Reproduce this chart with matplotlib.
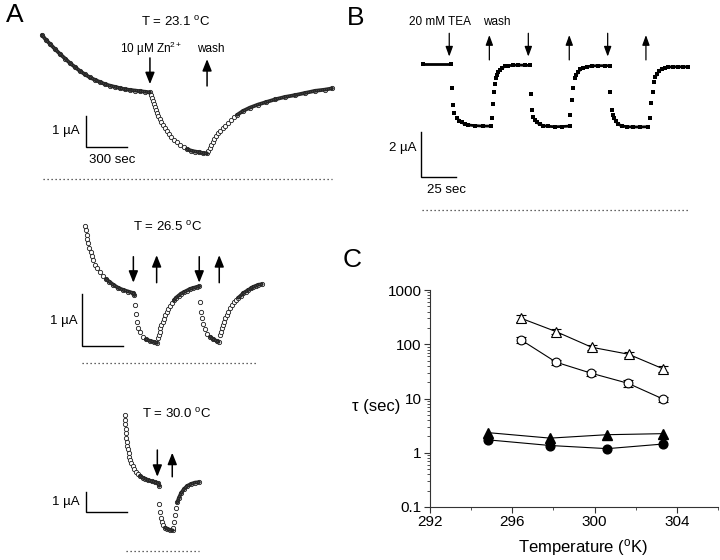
import numpy as np
import matplotlib
matplotlib.use('Agg')
import matplotlib.pyplot as plt
from matplotlib.ticker import FixedLocator, FixedFormatter, LogLocator, NullFormatter

plt.rcParams['font.family'] = ['Liberation Sans', 'DejaVu Sans']
plt.rcParams['mathtext.fontset'] = 'custom'
plt.rcParams['mathtext.rm'] = 'Liberation Sans'
plt.rcParams['mathtext.it'] = 'Liberation Sans:italic'
plt.rcParams['mathtext.bf'] = 'Liberation Sans:bold'

# ---------------- Panel A, T = 23.1 C  (time in s, current in uA) ----------------
A1_t = [0, 29, 58, 95, 131, 168, 204, 241, 277, 314, 350, 387, 423, 460, 496, 533, 569, 606, 642, 679, 715, 752, 788,
        796, 803, 810, 818, 825, 832, 842, 850, 861, 872, 883, 898, 913, 927, 945, 964, 986, 1007, 1033, 1059, 1088, 1117, 1146, 1175, 1205,
        1212, 1223, 1234, 1245, 1256, 1270, 1285, 1299, 1318, 1336, 1358, 1380, 1402, 1424, 1467, 1518, 1577, 1635, 1701, 1774, 1847, 1920, 1993, 2066, 2117]
A1_i = [4.72, 4.56, 4.43, 4.26, 4.10, 3.95, 3.80, 3.67, 3.54, 3.43, 3.33, 3.25, 3.18, 3.11, 3.06, 3.02, 2.98, 2.94, 2.92, 2.90, 2.88, 2.86, 2.84,
        2.75, 2.66, 2.56, 2.46, 2.36, 2.26, 2.16, 2.07, 1.97, 1.87, 1.77, 1.67, 1.57, 1.48, 1.38, 1.28, 1.20, 1.11, 1.05, 0.98, 0.93, 0.90, 0.88, 0.85, 0.84,
        0.92, 1.02, 1.11, 1.21, 1.31, 1.41, 1.51, 1.59, 1.67, 1.75, 1.85, 1.93, 2.02, 2.10, 2.23, 2.34, 2.44, 2.52, 2.61, 2.69, 2.75, 2.82, 2.89, 2.93, 2.97]

# ---------------- Panel A, T = 26.5 C ----------------
A2_t = [0, 5, 12, 17, 24, 31, 42, 51, 61, 73, 90, 110, 129, 153, 177, 207, 243, 280, 316, 353, 361,
        365, 370, 377, 389, 401, 421, 445, 475, 504, 526,
        535, 540, 545, 551, 557, 566, 575, 584, 595, 606, 621, 635, 650, 664, 683, 701, 723, 745, 767, 792, 818, 834,
        843, 850, 856, 865, 876, 894, 913, 937, 961, 975,
        986, 991, 998, 1006, 1015, 1024, 1034, 1046, 1059, 1073, 1088, 1102, 1119, 1137, 1156, 1174, 1192, 1212, 1229, 1248, 1265, 1290]
A2_i = [2.65, 2.56, 2.47, 2.39, 2.31, 2.22, 2.15, 2.07, 1.99, 1.90, 1.83, 1.75, 1.68, 1.62, 1.57, 1.51, 1.45, 1.41, 1.38, 1.35, 1.31,
        1.13, 0.94, 0.80, 0.68, 0.60, 0.51, 0.46, 0.43, 0.41, 0.39,
        0.48, 0.54, 0.61, 0.67, 0.74, 0.80, 0.86, 0.92, 0.99, 1.04, 1.10, 1.16, 1.21, 1.26, 1.30, 1.34, 1.37, 1.40, 1.43, 1.45, 1.47, 1.48,
        1.18, 0.99, 0.87, 0.76, 0.66, 0.56, 0.51, 0.46, 0.43, 0.41,
        0.54, 0.61, 0.67, 0.74, 0.80, 0.87, 0.93, 0.99, 1.06, 1.12, 1.17, 1.22, 1.26, 1.30, 1.35, 1.38, 1.41, 1.44, 1.47, 1.49, 1.51, 1.52]

# ---------------- Panel A, T = 30.0 C ----------------
A3_t = [0, 0, 2, 5, 7, 9, 12, 17, 22, 27, 31, 39, 46, 56, 66, 78, 93, 110, 129, 148, 170, 195, 219, 243, 250,
        251, 256, 261, 268, 275, 292, 309, 329, 348,
        353, 360, 365, 372, 382, 394, 409, 431, 455, 482, 511, 540]
A3_i = [6.99, 6.74, 6.52, 6.27, 6.05, 5.82, 5.62, 5.41, 5.23, 5.04, 4.85, 4.68, 4.51, 4.35, 4.21, 4.07, 3.95, 3.85, 3.76, 3.70, 3.63, 3.58, 3.53, 3.47, 3.34,
        2.39, 2.01, 1.70, 1.49, 1.32, 1.19, 1.12, 1.07, 1.05,
        1.19, 1.49, 1.84, 2.19, 2.49, 2.73, 2.96, 3.18, 3.34, 3.44, 3.51, 3.53]

# ---------------- Panel B, 20 mM TEA ----------------
B_t = [0, 20.3,
       20.6, 21.2, 22.4, 24.1, 25.7, 27.6, 29.9, 32.3, 37.0, 42.7, 48.4,
       48.9, 49.6, 50.5, 51.2, 51.7, 52.6, 53.5, 54.7, 56.4, 58.3, 60.6, 63.9, 67.7, 72.4, 76.0,
       76.7, 77.2, 78.3, 79.5, 80.7, 83.0, 85.4, 88.7, 93.7, 98.6, 104.3,
       104.6, 105.9, 106.6, 107.8, 108.9, 110.2, 111.7, 113.7, 116.4, 119.7, 124.1, 129.1, 132.6,
       132.9, 133.8, 134.8, 135.7, 136.9, 138.5, 141.1, 144.4, 148.9, 153.8, 159.7,
       160.9, 161.6, 162.8, 164.0, 164.8, 165.7, 167.3, 169.2, 171.5, 173.9, 177.2, 181.0, 184.3, 187.6]
B_i = [6.58, 6.58,
       5.48, 4.71, 4.38, 4.16, 4.03, 3.95, 3.87, 3.83, 3.80, 3.78, 3.78,
       4.13, 4.77, 5.33, 5.66, 5.93, 6.10, 6.20, 6.31, 6.41, 6.47, 6.50, 6.52, 6.53, 6.52, 6.51,
       5.21, 4.50, 4.20, 4.05, 3.95, 3.86, 3.80, 3.77, 3.75, 3.76, 3.78,
       4.28, 4.95, 5.48, 5.93, 6.10, 6.23, 6.33, 6.41, 6.45, 6.49, 6.50, 6.50, 6.50,
       5.33, 4.50, 4.30, 4.13, 3.99, 3.86, 3.79, 3.75, 3.74, 3.74, 3.75,
       4.16, 4.81, 5.33, 5.78, 5.99, 6.11, 6.25, 6.35, 6.41, 6.44, 6.45, 6.45, 6.45, 6.45]

# ---------------- Panel C ----------------
C_ticks_x = [292, 296, 300, 304]
C_ticks_y = [0.1, 1, 10, 100, 1000]
C_ticklabels_y = ['0.1', '1', '10', '100', '1000']
zn_open_T = [296.43, 298.13, 299.86, 301.65, 303.35]
zn_open_tau = [301, 171, 88, 65.5, 35]
zn_open_err = [40, 18, 9, 7, 4]
tea_open_T = [296.43, 298.13, 299.83, 301.62, 303.35]
tea_open_tau = [120, 46.7, 29.3, 19.1, 9.7]
tea_open_err = [15, 5, 3, 2.5, 1.0]
zn_fill_T = [294.81, 297.84, 300.59, 303.35]
zn_fill_tau = [2.35, 1.86, 2.15, 2.25]
tea_fill_T = [294.81, 297.84, 300.62, 303.35]
tea_fill_tau = [1.73, 1.36, 1.19, 1.45]

W, H = 720, 560
fig = plt.figure(figsize=(W / 100, H / 100), dpi=100)


def px_axes(x0, y0, x1, y1, ox, oy, sx, sy):
    """Axes occupying a pixel box; data origin at pixel (ox, oy), sx px per s, sy px per uA."""
    ax = fig.add_axes([x0 / W, 1 - y1 / H, (x1 - x0) / W, (y1 - y0) / H])
    ax.set_xlim((x0 - ox) / sx, (x1 - ox) / sx)
    ax.set_ylim((oy - y1) / sy, (oy - y0) / sy)
    ax.axis('off')
    return ax


def draw_circles(ax, t, i, dense):
    t = np.asarray(t, float)
    i = np.asarray(i, float)
    ax.plot(t, i, ls='none', marker='o', ms=3.1, mfc='white', mec='#1a1a1a', mew=0.6, zorder=2)
    for lo, hi in dense:
        m = (t >= lo) & (t <= hi)
        ax.plot(t[m], i[m], color='#262626', lw=2.7, solid_capstyle='round', zorder=3)
        ax.plot(t[m], i[m], color='#8a8a8a', lw=0.5, ls=(0, (0.6, 2.4)), zorder=4)


def draw_squares(ax, t, i, dense):
    t = np.asarray(t, float)
    i = np.asarray(i, float)
    ax.plot(t, i, ls='none', marker='s', ms=2.2, mfc='black', mec='black', mew=0, zorder=2)
    for lo, hi in dense:
        m = (t >= lo) & (t <= hi)
        ax.plot(t[m], i[m], color='black', lw=2.0, solid_capstyle='butt', zorder=3)


def arrow(ax, x, y_from, y_to, lw=1.1, hl=0.7, hw=0.28):
    ax.annotate('', xy=(x, y_to), xytext=(x, y_from),
                arrowprops=dict(arrowstyle=f'-|>,head_length={hl},head_width={hw}',
                                lw=lw, color='black', shrinkA=0, shrinkB=0))


def scalebar(ax, x, y, dx, dy):
    ax.plot([x, x, x + dx], [y + dy, y, y], color='black', lw=1.0, solid_joinstyle='miter')


def dotted(ax, x0, x1):
    ax.plot([x0, x1], [0, 0], color='#333333', lw=0.9, ls=(0, (1.0, 2.2)))


SMALL = dict(fontsize=8.5, family='Liberation Sans')

# ---- A top ----
a1 = px_axes(0, 0, 360, 195, 42, 179, 1 / 7.3, 30.5)
draw_circles(a1, A1_t, A1_i, [(0, 790), (1050, 1206), (1420, 2120)])
dotted(a1, 7, 2117)
scalebar(a1, 321, 1.06, 300, 1.0)
a1.text(277, 1.57, '1 µA', ha='right', va='center', fontsize=9.5)
a1.text(511, 0.61, '300 sec', ha='center', va='center', fontsize=9.5)
a1.text(978, 5.15, r'T = 23.1 $^{\mathrm{o}}$C', ha='center', va='center', fontsize=9.5)
a1.text(796, 4.26, r'10 µM Zn$^{\mathrm{2+}}$', ha='center', va='center', **SMALL)
a1.text(1234, 4.26, 'wash', ha='center', va='center', **SMALL)
arrow(a1, 788, 3.97, 3.11)
arrow(a1, 1205, 3.05, 3.93)

# ---- A middle ----
a2 = px_axes(0, 200, 360, 380, 85, 363.3, 1 / 7.3, 52)
draw_circles(a2, A2_t, A2_i, [(150, 361), (430, 526), (650, 834), (913, 975), (1119, 1290)])
dotted(a2, -24, 1265)
scalebar(a2, -24, 0.33, 300, 1.0)
a2.text(-51, 0.82, '1 µA', ha='right', va='center', fontsize=9.5)
a2.text(606, 2.63, r'T = 26.5 $^{\mathrm{o}}$C', ha='center', va='center', fontsize=9.5)
arrow(a2, 353, 2.05, 1.55)
arrow(a2, 523, 1.55, 2.08)
arrow(a2, 834, 2.05, 1.55)
arrow(a2, 980, 1.55, 2.08)

# ---- A bottom ----
a3 = px_axes(0, 395, 360, 560, 125, 550.7, 1 / 7.3, 19.4)
draw_circles(a3, A3_t, A3_i, [(100, 250), (290, 350), (380, 540)])
dotted(a3, 5, 540)
scalebar(a3, -285, 2.01, 300, 1.0)
a3.text(-329, 2.53, '1 µA', ha='right', va='center', fontsize=9.5)
a3.text(377, 7.05, r'T = 30.0 $^{\mathrm{o}}$C', ha='center', va='center', fontsize=9.5)
arrow(a3, 236, 5.19, 3.81)
arrow(a3, 345, 3.81, 5.05)

# ---- B ----
b = px_axes(360, 0, 720, 225, 422.7, 210, 35.3 / 25, 22.2)
draw_squares(b, B_t, B_i, [(0, 20.4), (24.0, 48.5), (52.5, 76.1), (79.4, 104.4),
                           (108.8, 132.7), (135.6, 159.8), (164.7, 188)])
dotted(b, -0.7, 188.0)
scalebar(b, -1.4, 1.50, 25, 2.0)
b.text(-4.7, 2.78, '2 µA', ha='right', va='center', fontsize=9.5)
b.text(17.2, 0.90, '25 sec', ha='center', va='center', fontsize=9.5)
b.text(12.2, 8.48, '20 mM TEA', ha='center', va='center', **SMALL)
b.text(52.4, 8.48, 'wash', ha='center', va='center', **SMALL)
for xd in [18.8, 74.8, 131.0]:
    arrow(b, xd, 7.96, 6.91, lw=0.9, hl=0.6, hw=0.22)
for xu in [47.2, 103.8, 158.1]:
    arrow(b, xu, 6.76, 7.88, lw=0.9, hl=0.6, hw=0.22)

# ---- C ----
c = fig.add_axes([430 / W, 1 - 507 / H, 288 / W, 217 / H])
c.set_yscale('log')
c.set_ylim(0.1, 1000)
c.set_xlim(292, 306)
for s in ['top', 'right']:
    c.spines[s].set_visible(False)
for s in ['left', 'bottom']:
    c.spines[s].set_linewidth(0.8)
    c.spines[s].set_color('#333333')
c.xaxis.set_major_locator(FixedLocator(C_ticks_x))
c.xaxis.set_minor_locator(FixedLocator([294, 298, 302, 306]))
c.yaxis.set_major_locator(FixedLocator(C_ticks_y))
c.yaxis.set_major_formatter(FixedFormatter(C_ticklabels_y))
c.yaxis.set_minor_locator(LogLocator(base=10, subs=np.arange(2, 10)))
c.yaxis.set_minor_formatter(NullFormatter())
c.tick_params(which='major', direction='out', length=4, width=0.8, labelsize=11, color='#333333', pad=2)
c.tick_params(which='minor', direction='out', length=2.2, width=0.6, color='#333333')

ekw = dict(color='black', lw=0.8, elinewidth=0.8, capsize=3.5, capthick=0.8, zorder=3)
c.errorbar(zn_open_T, zn_open_tau, yerr=zn_open_err, fmt='-^', ms=6.8, mfc='white', mec='black', mew=0.8, **ekw)
c.errorbar(tea_open_T, tea_open_tau, yerr=tea_open_err, fmt='-o', ms=6.3, mfc='white', mec='black', mew=0.8, **ekw)
c.plot(zn_fill_T, zn_fill_tau, '-^', color='black', lw=0.8, ms=6.8, mfc='black', mec='black', zorder=3)
c.plot(tea_fill_T, tea_fill_tau, '-o', color='black', lw=0.8, ms=6.3, mfc='black', mec='black', zorder=3)
c.set_xlabel(r'Temperature ($^{\mathrm{o}}$K)', fontsize=12)
c.xaxis.set_label_coords((583 - 430) / 288, -(548 - 507) / 217)
c.xaxis.label.set_va('center')
fig.text(376 / W, 1 - 407 / H, 'τ (sec)', ha='center', va='center', fontsize=12)

# panel letters
fig.text(15 / W, 1 - 15 / H, 'A', ha='center', va='center', fontsize=19)
fig.text(356 / W, 1 - 18 / H, 'B', ha='center', va='center', fontsize=19)
fig.text(352 / W, 1 - 260 / H, 'C', ha='center', va='center', fontsize=19)

fig.savefig('out.png', dpi=100)
